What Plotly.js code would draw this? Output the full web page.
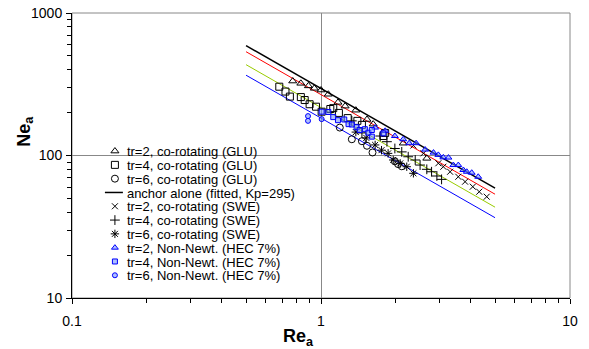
<!DOCTYPE html>
<html><head><meta charset="utf-8">
<script src="https://cdn.plot.ly/plotly-3.0.1.min.js"></script>
<style>html,body{margin:0;padding:0;background:#fff}#chart{width:589px;height:349px}</style>
</head><body><div id="chart"></div>
<script>
// Fitted lines (end points)
const lineRe = [0.5, 5];
const anchorNe = [590, 59];
const redNe = [535, 53.5];
const greenNe = [434, 43.4];
const blueNe = [366, 36.6];

// GLU, co-rotating
const glu2Re = [0.77,0.83,0.89,0.94,1.0,1.07,1.17,1.25,1.38,1.53,1.62,2.14,2.66];
const glu2Ne = [333,321,308,296,288,269,236,222,208,179,166,122,95.5];
const glu4Re = [0.68,0.72,0.75,0.83,0.86,0.90,0.955,1.006,1.09,1.12,1.18,1.28,1.40,1.46,1.78,1.81];
const glu4Ne = [304,281,259,257,245,229,220,203,212,215,199,183,175,164,137,144];
const glu6Re = [1.19,1.33,1.46,1.53,1.61,1.98,2.04,2.11];
const glu6Ne = [157,130,126,117,105,91,87,84];

// SWE, co-rotating
const swe2Re = [2.35,2.58,2.96,3.10,3.30,3.56,3.79,4.07,4.32,4.63];
const swe2Ne = [117.5,103.6,88.2,83.4,76.9,70.9,65.5,60.4,55.7,51.4];
const swe4Re = [1.33,1.46,1.73,1.84,1.98,2.11,2.24,2.39,2.50,2.66,2.78,2.92,3.05];
const swe4Ne = [175,144,137,125,112,106,98,93,85.7,80,76.9,71.8,68];
const swe6Re = [1.38,1.52,1.65,1.75,1.86,1.95,2.08,2.21,2.35];
const swe6Ne = [146,133,118.6,109,103.5,93,88,83.4,75];

// Non-Newtonian (HEC 7%)
const hec2Re = [1.65,1.81,1.98,2.14,2.26,2.41,2.62,2.83,2.96,3.10,3.25,3.40,3.56,3.73,3.85,4.03,4.28];
const hec2Ne = [157,149,137,130,122,122,110,104.8,101,97,96.7,85.7,85.7,79.1,76.9,75.7,70.9];
const hec4Re = [1.006,1.07,1.12,1.17,1.24,1.29,1.33,1.39,1.43,1.50,1.55,1.60,1.60,1.78];
const hec4Ne = [203,202,186,177,179,166,165,158,151,153,144.5,151,135.6,143];
const hec6Re = [0.887,0.887,1.006];
const hec6Ne = [189,175,180];

const names = [
  'tr=2, co-rotating (GLU)','tr=4, co-rotating (GLU)','tr=6, co-rotating (GLU)',
  'anchor alone (fitted, Kp=295)',
  'tr=2, co-rotating (SWE)','tr=4, co-rotating (SWE)','tr=6, co-rotating (SWE)',
  'tr=2, Non-Newt. (HEC 7%)','tr=4, Non-Newt. (HEC 7%)','tr=6, Non-Newt. (HEC 7%)'
];

const FONT = 'Arial, "Liberation Sans", sans-serif';
const blk = {color:'#000', width:1};
const blueLine = {color:'#0000ff', width:1};
const blueFill = 'rgba(110,140,255,0.55)';

function pts(x, y, name, symbol, size, color, line){
  return {type:'scatter', mode:'markers', x:x, y:y, name:name,
    marker:{symbol:symbol, size:size, color:color, line:line}};
}
function ln(y, color, width, name, show){
  return {type:'scatter', mode:'lines', x:lineRe, y:y, name:name || '', showlegend:!!show,
    line:{color:color, width:width}};
}

const data = [
  ln(redNe, '#ff0000', 1),
  ln(greenNe, '#99cc00', 1),
  ln(blueNe, '#0000ff', 1),
  pts(glu2Re, glu2Ne, names[0], 'triangle-up-open', 7, '#000', blk),
  pts(glu4Re, glu4Ne, names[1], 'square-open', 7, '#000', blk),
  pts(glu6Re, glu6Ne, names[2], 'circle-open', 7, '#000', blk),
  ln(anchorNe, '#000000', 1.5, names[3], true),
  pts(swe2Re, swe2Ne, names[4], 'x-thin-open', 6, '#000', blk),
  pts(swe4Re, swe4Ne, names[5], 'cross-thin-open', 7, '#000', blk),
  pts(swe6Re, swe6Ne, names[6], 'asterisk-open', 7, '#000', blk),
  pts(hec2Re, hec2Ne, names[7], 'triangle-up', 6, blueFill, blueLine),
  pts(hec4Re, hec4Ne, names[8], 'square', 5, blueFill, blueLine),
  pts(hec6Re, hec6Ne, names[9], 'circle', 5, blueFill, blueLine)
];

const axisCommon = {
  type:'log', dtick:1, exponentformat:'none',
  showline:true, linecolor:'#000', linewidth:1,
  ticks:'outside', ticklen:5, tickcolor:'#000', tickwidth:1,
  showgrid:true, gridcolor:'#888888', gridwidth:1, zeroline:false,
  tickfont:{family:FONT, size:14, color:'#000'},
  minor:{dtick:'D1', ticks:'outside', ticklen:4, tickcolor:'#000', tickwidth:1, showgrid:false}
};

const layout = {
  width:589, height:349,
  margin:{l:72, r:19, t:13, b:51, autoexpand:false},
  paper_bgcolor:'#fff', plot_bgcolor:'#fff',
  font:{family:FONT, color:'#000'},
  xaxis:Object.assign({}, axisCommon, {range:[-1,1], ticklabelstandoff:5, automargin:false}),
  yaxis:Object.assign({}, axisCommon, {range:[1,3], ticklabelstandoff:1, automargin:false}),
  showlegend:true,
  legend:{x:0.046, y:0.568, xanchor:'left', yanchor:'top', bgcolor:'rgba(0,0,0,0)',
    borderwidth:0, font:{family:FONT, size:13, color:'#000'}, tracegroupgap:0},
  shapes:[{type:'rect', xref:'paper', yref:'paper', x0:0, x1:1, y0:0, y1:1,
    line:{color:'#888888', width:1}, layer:'below'}],
  annotations:[
    {text:'<b>Re<sub>a</sub></b>', xref:'paper', yref:'paper', x:0.455, y:-0.137,
      xanchor:'center', yanchor:'middle', showarrow:false, font:{family:FONT, size:18, color:'#000'}},
    {text:'<b>Ne<sub>a</sub></b>', xref:'paper', yref:'paper', x:-0.094, y:0.584, textangle:-90,
      xanchor:'center', yanchor:'middle', showarrow:false, font:{family:FONT, size:18, color:'#000'}}
  ]
};

function tweakLegend(){
  const items = document.querySelectorAll('#chart .legend .traces');
  let y0 = null;
  items.forEach(function(el, i){
    const t = el.getAttribute('transform') || '';
    const m = /translate\(\s*([-\d.e]+)[\s,]+([-\d.e]+)\s*\)/.exec(t);
    if(!m) return;
    if(y0 === null) y0 = parseFloat(m[2]);
    el.setAttribute('transform', 'translate(' + m[1] + ',' + (y0 + i*13.8) + ')');
    const txt = el.querySelector('.legendtext');
    if(txt) txt.setAttribute('x', 32);
    el.querySelectorAll('.legendlines path').forEach(function(p){ p.setAttribute('d','M10,0h18'); });
  });
}

const gd = document.getElementById('chart');
Plotly.newPlot(gd, data, layout, {staticPlot:true, displayModeBar:false}).then(function(){
  tweakLegend();
  gd.on && gd.on('plotly_afterplot', tweakLegend);
});
</script>
</body></html>
